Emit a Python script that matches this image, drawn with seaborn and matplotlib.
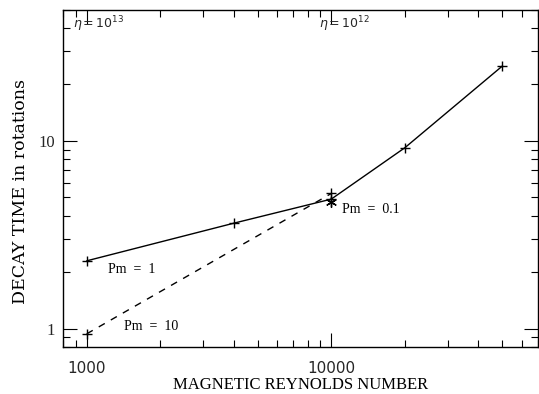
import matplotlib
matplotlib.use("Agg")
import matplotlib.pyplot as plt
import seaborn as sns
import numpy as np
from matplotlib.ticker import LogLocator, NullFormatter, FixedLocator, FixedFormatter

sns.set_theme(style="white")
plt.rcParams['font.family'] = ['Liberation Serif', 'DejaVu Serif']

# Data
rm_pm1 = [1000, 4000, 10000, 20000, 50000]
t_pm1 = [2.3, 3.65, 4.9, 9.2, 25.0]
rm_pm10 = [1000, 10000]
t_pm10 = [0.94, 5.25]
rm_pm01 = [10000]
t_pm01 = [4.75]

xticks = [1000, 10000]
xticklabels = ["1000", "10000"]
yticks = [1, 10]
yticklabels = ["1", "10"]

fig = plt.figure(figsize=(5.39, 3.94), dpi=100)
ax = fig.add_axes([0.1169, 0.1193, 0.8811, 0.8563])

sns.lineplot(x=rm_pm1, y=t_pm1, ax=ax, color="black", lw=1.0, marker="+",
             markersize=7, markeredgewidth=1.0, markeredgecolor="black")
sns.lineplot(x=rm_pm10, y=t_pm10, ax=ax, color="black", lw=1.0, marker="+",
             markersize=7, markeredgewidth=1.0, markeredgecolor="black",
             linestyle=(0, (5, 5)))
sns.scatterplot(x=rm_pm01, y=t_pm01, ax=ax, color="black", marker=(6, 2, 0),
                s=50, linewidth=1.0, edgecolor="black")

ax.set_xscale("log")
ax.set_yscale("log")
ax.set_xlim(800, 70000)
ax.set_ylim(0.8, 50)

ax.xaxis.set_major_locator(FixedLocator(xticks))
ax.xaxis.set_major_formatter(FixedFormatter(xticklabels))
ax.yaxis.set_major_locator(FixedLocator(yticks))
ax.yaxis.set_major_formatter(FixedFormatter(yticklabels))
ax.xaxis.set_minor_locator(LogLocator(base=10, subs=np.arange(2, 10)))
ax.yaxis.set_minor_locator(LogLocator(base=10, subs=np.arange(2, 10)))
ax.xaxis.set_minor_formatter(NullFormatter())
ax.yaxis.set_minor_formatter(NullFormatter())

ax.tick_params(which="both", direction="in", top=True, right=True,
               bottom=True, left=True, color="black", width=0.8)
ax.tick_params(which="major", length=10)
ax.tick_params(which="minor", length=5)
ax.tick_params(axis="x", which="major", labelsize=11, pad=10)
ax.tick_params(axis="y", which="major", labelsize=12, pad=6)
for lab in ax.get_xticklabels():
    lab.set_fontfamily(["DejaVu Sans"])

for s in ax.spines.values():
    s.set_color("black")
    s.set_linewidth(1.0)

ax.set_xlabel("MAGNETIC REYNOLDS NUMBER", fontsize=12, color="black")
ax.xaxis.set_label_coords(0.5, -0.09)
ax.set_ylabel("DECAY TIME in rotations", fontsize=12.5, color="black",
              family=["DejaVu Serif"])
ax.yaxis.set_label_coords(-0.072, 0.462)

ax.text(1218, 2.08, "Pm  =  1", fontsize=10, ha="left", va="center", color="black")
ax.text(1416, 1.03, "Pm  =  10", fontsize=10, ha="left", va="center", color="black")
ax.text(11090, 4.3, "Pm  =  0.1", fontsize=10, ha="left", va="center", color="black")
ax.text(0.022, 0.958, r"$\eta\,$=$\,$10$^{13}$", transform=ax.transAxes, fontsize=9,
        ha="left", va="center", family=["DejaVu Sans"])
ax.text(0.54, 0.958, r"$\eta\,$=$\,$10$^{12}$", transform=ax.transAxes, fontsize=9,
        ha="left", va="center", family=["DejaVu Sans"])

fig.savefig("out.png", dpi=100)
